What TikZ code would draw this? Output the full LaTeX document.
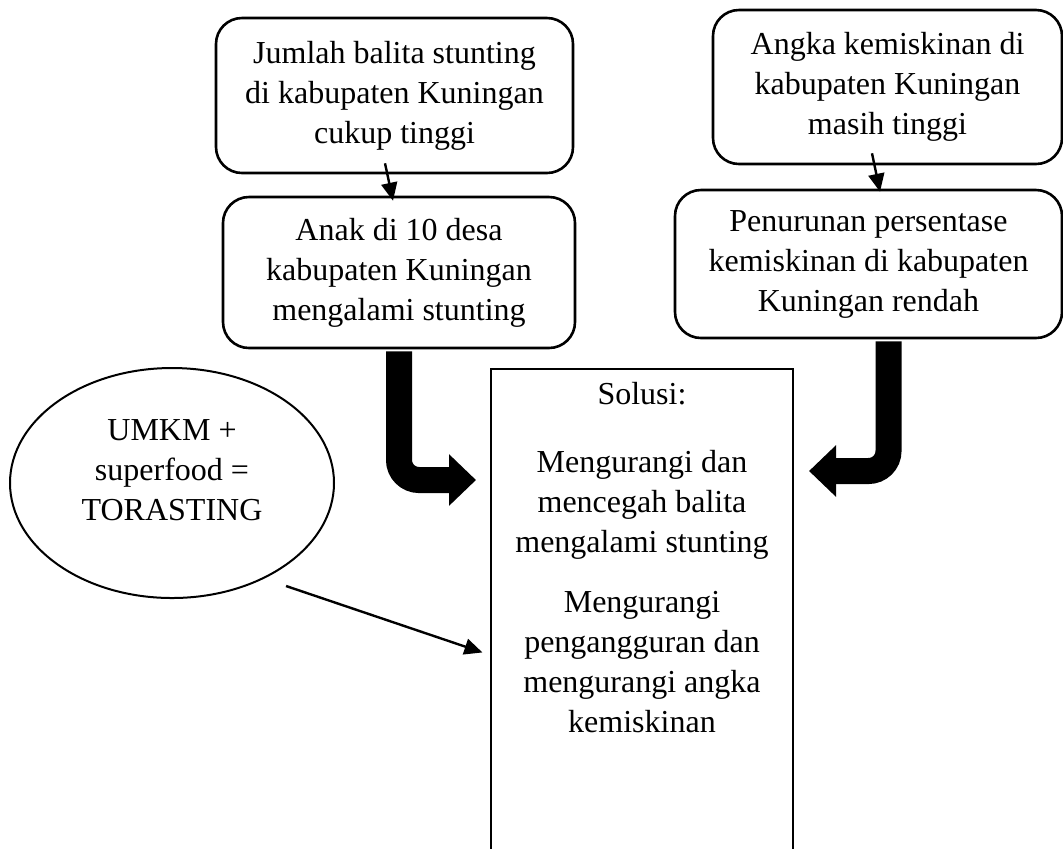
\documentclass[tikz,border=0pt]{standalone}
\usepackage{fontspec}
\setmainfont{Liberation Serif}
\usetikzlibrary{arrows.meta,shapes.geometric,positioning}

\begin{document}
\begin{tikzpicture}[x=0.5pt,y=-0.5pt,->,>={Triangle[length=9pt,width=8pt]},line width=1.2pt,node distance=88.5pt,align=center,
    txt/.style={font=\fontsize{16}{20}\selectfont},
    box/.style={txt,draw,rounded corners=13pt,line width=1.3pt},
    fat/.style={-{Triangle[length=13.5pt,width=25pt]},line width=13pt,rounded corners=10pt}]
        \useasboundingbox (0,0) rectangle (1063,848);

        \node[box,minimum width=178.5pt,minimum height=77.5pt] (jumlah) at (394.5,95.5) {Jumlah balita stunting\\di kabupaten Kuningan\\cukup tinggi};
        \node[box,minimum width=176pt,minimum height=75.5pt] (anak) [below of=jumlah,xshift=2.25pt] {Anak di 10 desa\\kabupaten Kuningan\\mengalami stunting};
        \node[box,minimum width=174.5pt,minimum height=77pt] (angka) at (887.5,87) {Angka kemiskinan di\\kabupaten Kuningan\\masih tinggi};
        \node[box,minimum width=193.5pt,minimum height=74pt] (penurunan) [below of=angka,xshift=-9.5pt] {Penurunan persentase\\kemiskinan di kabupaten\\Kuningan rendah};
        \node[txt,draw,ellipse,line width=1pt,inner sep=0pt,minimum width=162pt,minimum height=115pt] (umkm) at (172,483) {UMKM +\\superfood =\\TORASTING\\[-7pt]\mbox{}};
        \node[draw,line width=1pt,minimum width=151pt,minimum height=245pt,anchor=north] (solusi) at (642,368) {};
        \node[txt,anchor=north,inner ysep=6.5pt] (isi) at (solusi.north) {Solusi:\\[14pt]Mengurangi dan\\mencegah balita\\mengalami stunting\\[10pt]Mengurangi\\pengangguran dan\\mengurangi angka\\kemiskinan};

        \path[->] ([xshift=-4.75pt,yshift=5.5pt]jumlah.south) edge ([xshift=-3pt,yshift=-2.5pt]anak.north)
                  ([xshift=-7.75pt,yshift=6pt]angka.south) edge ([xshift=5.75pt,yshift=-1.5pt]penurunan.north)
                  ([xshift=6.5pt,yshift=-6pt]umkm.-42) edge[shorten >=4pt] (solusi.west |- 0,655);

        \draw[fat,shorten >=7pt] ([yshift=-1pt]anak.south) |- (solusi.west |- 0,480);
        \draw[fat,shorten >=7.5pt] ([xshift=10pt,yshift=-1pt]penurunan.south) |- (solusi.east |- 0,471);
    \end{tikzpicture}
\end{document}
